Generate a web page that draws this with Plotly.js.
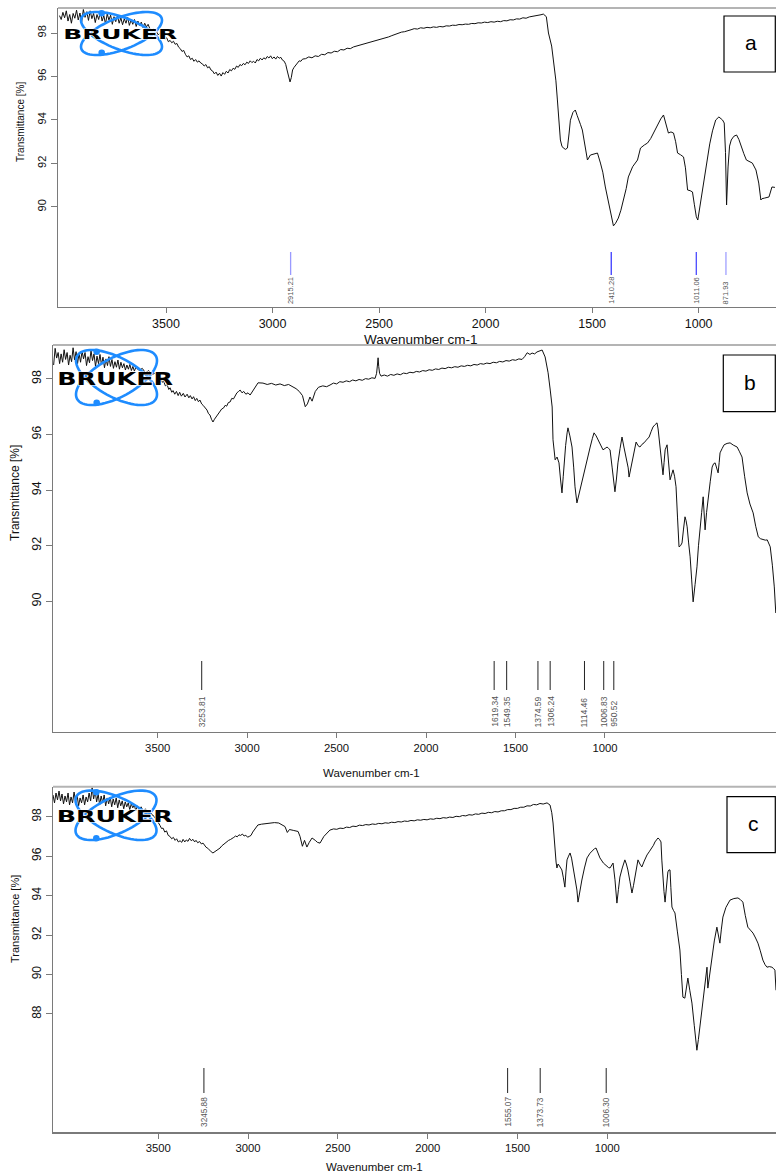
<!DOCTYPE html>
<html><head><meta charset="utf-8">
<script src="https://cdn.plot.ly/plotly-3.0.1.min.js"></script>
<style>html,body{margin:0;padding:0;background:#fff}#chart{width:776px;height:1175px}</style>
</head><body><div id="chart"></div>
<script>
// ---------------- DATA ----------------
const xTickVals = [3500, 3000, 2500, 2000, 1500, 1000];
const yTicksA = [90, 92, 94, 96, 98];
const yTicksB = [90, 92, 94, 96, 98];
const yTicksC = [88, 90, 92, 94, 96, 98];
const panelLetters = ["a", "b", "c"];
const xTitle = "Wavenumber cm-1";
const yTitle = "Transmittance [%]";
const logoText = "BRUKER";

const peaksA = [2915.21, 1410.28, 1011.06, 871.93];
const peaksB = [3253.81, 1619.34, 1549.35, 1374.59, 1306.24, 1114.46, 1006.83, 950.52];
const peaksC = [3245.88, 1555.07, 1373.73, 1006.30];

const waveA = [4000,3992,3984,3976,3968,3960,3952,3944,3936,3928,3920,3912,3904,3896,3888,3880,3872,3864,3856,3848,3840,3832,3824,3816,3808,3800,3792,3784,3776,3768,3760,3752,3744,3736,3728,3720,3712,3704,3696,3688,3680,3672,3664,3656,3648,3640,3632,3624,3616,3608,3600,3592,3584,3576,
3568,3560,3552,3545,3537,3529,3521,3513,3505,3497,3489,3481,3473,3465,3457,3449,3441,3433,3425,3417,3409,3401,3393,3385,3377,3369,3361,3353,3345,3337,3329,3321,3313,3305,3297,3289,3281,3273,3265,3257,3249,3241,3233,3225,3217,3209,3201,3193,3185,3177,3169,3161,3153,3145,3137,3129,3121,3113,3105,3097,3089,3081,3073,3065,3057,3049,3041,3033,3025,3017,3009,3001,2993,2985,2977,2969,2961,2953,2945,2938,2932,2925,2918,2912,2906,2899,2891,2883,2875,2867,2859,
2845,2830,2815,2800,2785,2770,2755,2740,2725,2710,2695,2680,2665,2650,2635,2620,2605,2590,2575,2560,2545,2530,2515,2500,2485,2470,2455,2440,2425,2410,2395,2380,2365,2350,2335,2320,2305,2290,2275,2260,2245,2230,2215,2200,2185,2170,2155,2140,2125,2110,2095,2080,2065,2050,2035,2020,2005,1990,1975,1960,1945,1930,1915,1900,1885,1870,1855,1840,1825,1810,1795,1780,1765,1750,1740,1729,
1715,1705,1690,1682,1670,1663,1656,1649,1642,1635,1625,1616,1608,1602,1590,1579,1570,1564,1555,1546,1535,1522,1508,1490,1475,1461,1450,1438,1425,1414,1405,1400,1390,1377,1365,1353,1340,1330,1310,1287,1273,1255,1240,1225,1212,1200,1189,1178,1165,1155,1142,1130,1118,1108,1099,1085,1071,1062,1052,1040,1029,1020,1011,1004,996,986,975,962,948,935,920,905,888,880,874,869,866,862,855,847,835,822,811,800,788,776,764,748,731,718,708,703,690,670,656,642,634];
const transA = [98.80,98.62,98.95,98.70,99.02,98.55,98.85,98.45,98.90,98.68,99.05,98.60,98.92,98.50,99.08,98.72,98.98,98.58,99.02,98.66,98.90,98.48,98.85,98.62,99.00,98.55,98.80,98.42,98.88,98.60,98.82,98.40,98.75,98.52,98.80,98.45,98.70,98.38,98.65,98.45,98.72,98.35,98.60,98.40,98.62,98.30,98.55,98.35,98.50,98.25,98.45,98.28,98.40,98.20,
98.12,98.18,98.02,98.06,97.92,97.98,97.85,97.90,97.72,97.78,97.60,97.66,97.55,97.62,97.48,97.52,97.35,97.28,97.15,97.20,97.02,96.90,96.95,96.78,96.84,96.70,96.78,96.66,96.72,96.62,96.58,96.48,96.55,96.40,96.45,96.30,96.25,96.12,96.20,96.05,96.15,96.02,96.18,96.10,96.24,96.16,96.32,96.26,96.38,96.33,96.48,96.42,96.55,96.50,96.60,96.54,96.66,96.60,96.72,96.64,96.70,96.62,96.78,96.72,96.84,96.76,96.86,96.80,96.92,96.85,96.95,96.82,96.90,96.80,96.92,96.84,96.88,96.75,96.70,96.55,96.30,96.00,95.75,95.95,96.30,96.42,96.55,96.62,96.72,96.70,96.80,
96.82,96.90,96.86,96.95,96.92,97.02,97.00,97.10,97.08,97.16,97.14,97.24,97.22,97.30,97.28,97.36,97.40,97.45,97.50,97.52,97.58,97.60,97.66,97.68,97.74,97.78,97.82,97.88,97.94,97.98,98.04,98.06,98.12,98.15,98.20,98.18,98.24,98.22,98.26,98.24,98.28,98.26,98.30,98.28,98.33,98.32,98.36,98.35,98.39,98.38,98.41,98.40,98.44,98.43,98.47,98.46,98.50,98.48,98.52,98.50,98.54,98.52,98.57,98.56,98.61,98.60,98.65,98.64,98.70,98.68,98.74,98.76,98.79,98.80,98.84,98.87,
98.75,98.00,97.40,96.76,95.80,94.92,94.00,93.08,92.80,92.71,92.65,92.71,93.40,93.99,94.35,94.46,94.20,93.99,93.80,93.54,92.80,92.16,92.39,92.45,92.48,92.02,91.60,90.92,90.30,89.72,89.30,89.13,89.25,89.49,89.85,90.32,90.85,91.38,91.85,92.16,92.71,92.85,92.94,93.15,93.40,93.60,93.86,94.05,94.23,93.90,93.40,93.45,93.40,93.00,92.48,92.40,92.30,91.80,90.78,90.75,90.69,90.10,89.55,89.40,89.90,90.60,91.40,92.20,92.90,93.50,94.00,94.14,94.00,93.86,92.50,90.09,91.00,91.84,92.80,93.08,93.25,93.31,93.10,92.76,92.45,92.16,92.10,92.02,91.70,91.10,90.32,90.38,90.41,90.46,90.92,90.90];

const waveB = [4000,3993,3986,3979,3972,3965,3958,3951,3944,3937,3930,3923,3916,3909,3902,3895,3888,3881,3874,3867,3860,3853,3846,3839,3832,3825,3818,3811,3804,3797,3790,3783,3776,3769,3762,3755,3748,3741,3734,3727,3720,3713,3706,3699,3692,3685,3678,3671,3664,3657,3650,3643,3636,3629,3622,3615,3600,3585,3570,3555,3540,3528,
3516,3508,3500,3492,3485,3477,3469,3461,3455,3447,3441,3433,3425,3417,3410,3402,3393,3385,3375,3367,3360,3352,3345,3337,3330,3322,3315,3307,3300,3291,3282,3275,3268,3261,3254,3247,3240,3230,3221,3213,3205,3197,3190,3182,3174,3166,3158,3150,3142,3134,3127,3118,3110,3100,3090,3080,3070,3060,3052,3043,
3020,3000,2980,2960,2940,2920,2900,2880,2865,2850,2835,2822,2812,2800,2790,2775,2760,2740,2722,
2706,2690,2675,2660,2645,2630,2615,2600,2585,2570,2555,2540,2525,2510,2495,2488,2484,2481,2478,2474,2467,2452,2437,2422,2407,2392,2377,2362,2347,2332,2317,2302,2287,2272,2257,2242,2227,2212,2197,2182,2167,2152,2137,2122,2107,2092,2077,2062,2047,2032,2017,2002,1987,1972,1957,1942,1927,1912,1897,1882,1867,1852,1837,1822,1807,1795,1783,1770,1760,1748,1737,1725,1713,
1699,1685,1675,1666,1662,1652,1643,1634,1627,1620,1614,1610,1603,1596,1592,1583,1573,1565,1559,1550,1542,1535,1523,1512,1500,1488,1478,1470,1460,1451,1440,1428,1418,1409,1402,1395,1385,1378,1372,1365,1358,1348,1339,1330,1316,1310,1306,1297,1287,1280,1273,1264,1255,1245,1236,1225,1212,1203,1194,1185,1175,1170,1166,1157,1147,1142,1137,1128,1121,1114,1107,1100,1093,1086,1079,1072,1065,1058,1051,1044,1039,1034,1027,1020,1013,1006,997,988,981,974,966,959,955,950,943,936,926,917,910,903,896,889,884,880,870,861,847,833,818,800,790,777,765,753,740,725,713,701,690,678,668,659,652,645,635,626,619];
const transB = [98.50,99.10,98.75,98.95,98.55,98.90,98.60,99.05,98.70,98.95,98.50,98.85,98.62,99.12,98.68,98.98,98.55,98.92,98.60,99.00,98.72,98.95,98.48,98.80,98.58,99.02,98.66,98.90,98.45,98.82,98.55,98.88,98.50,98.78,98.40,98.72,98.48,98.80,98.45,98.70,98.38,98.62,98.42,98.68,98.35,98.60,98.40,98.55,98.32,98.50,98.35,98.52,98.30,98.45,98.28,98.42,98.30,98.38,98.22,98.30,98.15,98.20,
98.14,98.00,98.05,97.88,97.92,97.75,97.80,97.62,97.68,97.52,97.58,97.45,97.55,97.40,97.52,97.38,97.48,97.35,97.45,97.32,97.40,97.28,97.36,97.22,97.30,97.18,97.24,97.10,97.05,96.95,96.88,96.75,96.70,96.55,96.45,96.55,96.62,96.75,96.81,96.92,96.95,97.05,97.02,97.15,97.17,97.30,97.28,97.42,97.50,97.55,97.60,97.50,97.55,97.45,97.50,97.42,97.55,97.65,97.75,97.86,
97.85,97.80,97.84,97.78,97.82,97.76,97.80,97.72,97.65,97.55,97.40,97.00,97.10,97.35,97.20,97.55,97.70,97.75,97.72,
97.78,97.85,97.82,97.90,97.88,97.93,97.90,97.96,97.93,97.98,97.95,98.01,97.99,98.04,98.02,98.20,98.50,98.76,98.45,98.20,98.10,98.14,98.10,98.16,98.13,98.18,98.15,98.21,98.19,98.24,98.22,98.27,98.25,98.30,98.28,98.33,98.31,98.36,98.34,98.39,98.37,98.42,98.40,98.44,98.42,98.47,98.45,98.49,98.47,98.52,98.50,98.55,98.53,98.57,98.55,98.60,98.58,98.63,98.61,98.66,98.64,98.69,98.67,98.72,98.70,98.80,98.94,98.88,98.93,98.90,98.97,99.00,99.04,
98.79,98.22,97.60,96.99,95.81,95.09,95.19,94.98,94.40,93.90,94.50,95.09,95.60,96.06,96.24,95.95,95.55,94.80,94.12,93.54,93.80,94.12,94.50,94.83,95.20,95.55,95.85,96.06,95.95,95.81,95.60,95.45,95.50,95.55,95.50,95.45,94.80,94.20,93.94,94.40,94.98,95.50,95.91,95.55,95.09,94.80,94.47,94.80,95.09,95.40,95.73,95.60,95.55,95.65,95.70,95.80,95.91,96.10,96.27,96.35,96.42,96.20,95.91,95.20,94.55,95.00,95.45,95.63,95.00,94.37,94.55,94.73,94.50,94.12,93.00,91.96,92.00,92.10,92.60,93.04,92.90,92.68,92.10,91.60,90.80,89.98,90.60,91.24,92.00,92.68,93.20,93.76,93.20,92.57,93.20,93.76,94.30,94.83,94.95,94.98,94.80,94.62,95.00,95.34,95.50,95.63,95.68,95.70,95.62,95.55,95.40,95.19,94.50,93.90,93.50,93.18,92.70,92.32,92.25,92.21,92.20,92.21,92.10,91.96,91.30,90.52,89.58];

const waveC = [4000,3993,3986,3979,3972,3965,3958,3951,3944,3937,3930,3923,3916,3909,3902,3895,3888,3881,3874,3867,3860,3853,3846,3839,3832,3825,3818,3811,3804,3797,3790,3783,3776,3769,3762,3755,3748,3741,3734,3727,3720,3713,3706,3699,3692,3685,3678,3671,3664,3657,3650,3643,3636,3629,3622,3615,3608,3600,3590,3580,3570,3560,3550,3540,
3532,3525,3518,3510,3502,3495,3488,3480,3472,3464,3456,3448,3440,3432,3425,3417,3409,3401,3395,3387,3380,3372,3365,3357,3349,3341,3335,3327,3318,3310,3302,3295,3288,3280,3272,3264,3256,3248,3240,3232,3223,3215,3207,3199,3191,3183,3175,3167,3159,3151,3143,3135,3127,3119,3111,3103,3095,3087,3079,3071,3063,3055,3047,
3030,3000,2970,2950,2935,2921,2910,2900,2880,2860,2851,2840,2830,2819,2808,2795,2780,2770,2758,2740,
2712,2695,2680,2665,2650,2635,2620,2605,2590,2575,2560,2545,2530,2515,2500,2485,2470,2455,2440,2425,2410,2395,2380,2365,2350,2335,2320,2305,2290,2275,2260,2245,2230,2215,2200,2185,2170,2155,2140,2125,2110,2095,2080,2065,2050,2035,2020,2005,1990,1975,1960,1945,1930,1915,1900,1885,1870,1855,1840,1825,1810,1795,1780,1765,1750,1735,1720,1702,
1688,1680,1674,1669,1665,1660,1656,1651,1647,1640,1633,1626,1619,1614,1609,1602,1595,1588,1581,1572,1563,1558,1550,1540,1528,1516,1502,1488,1481,1474,1465,1456,1440,1423,1416,1409,1402,1395,1386,1377,1370,1363,1352,1340,1333,1326,1316,1307,1300,1293,1286,1279,1270,1261,1250,1237,1225,1214,1207,1200,1193,1186,1179,1172,1168,1163,1158,1153,1147,1140,1135,1130,1126,1121,1114,1107,1096,1084,1077,1070,1061,1054,1047,1038,1028,1017,1005,998,991,984,977,968,958,954,945,935,924,912,905,898,891,884,870,851,833,814,803,791,780,768,756,744,732,721,710,698,688,679,668,656,648,642,637];
const transC = [99.10,98.70,99.20,98.85,99.30,98.80,99.15,98.65,99.05,98.75,99.20,98.60,99.00,98.70,99.25,98.80,99.10,98.55,98.95,98.70,99.10,98.60,99.00,98.75,99.20,98.80,99.47,98.90,99.30,98.75,99.15,98.60,99.05,98.70,99.10,98.55,98.95,98.65,99.00,98.50,98.90,98.60,98.95,98.45,98.85,98.55,98.80,98.40,98.75,98.50,98.70,98.35,98.65,98.45,98.60,98.30,98.55,98.35,98.50,98.25,98.40,98.20,98.30,98.10,
98.05,97.92,97.98,97.70,97.55,97.40,97.42,97.22,97.28,97.05,97.00,96.88,96.95,96.80,96.88,96.72,96.78,96.70,96.85,96.72,96.82,96.75,96.90,96.78,96.85,96.72,96.80,96.68,96.74,96.62,96.66,96.52,96.45,96.40,96.30,96.22,96.16,96.22,96.30,96.38,96.41,96.52,96.60,96.68,96.74,96.80,96.84,96.92,96.95,97.02,96.98,97.08,97.05,97.12,97.02,97.06,96.96,97.00,97.05,97.22,97.35,97.50,97.58,
97.62,97.65,97.70,97.68,97.60,97.50,97.20,97.35,97.30,97.25,97.00,96.50,96.80,96.46,96.70,96.92,96.80,96.70,96.66,97.00,
97.32,97.38,97.36,97.42,97.40,97.47,97.45,97.52,97.50,97.57,97.55,97.60,97.58,97.63,97.61,97.66,97.64,97.69,97.67,97.72,97.70,97.75,97.73,97.78,97.76,97.81,97.79,97.84,97.82,97.86,97.84,97.89,97.87,97.92,97.90,97.95,97.93,97.98,97.96,98.02,98.00,98.06,98.04,98.10,98.08,98.14,98.12,98.18,98.16,98.22,98.20,98.26,98.24,98.30,98.30,98.36,98.36,98.42,98.42,98.48,98.48,98.55,98.54,98.62,98.60,98.67,98.64,98.70,
98.59,98.20,97.68,96.90,96.16,95.70,95.40,95.60,95.55,95.40,95.30,94.90,94.43,95.20,95.81,96.00,96.16,95.90,95.45,94.90,94.28,93.67,94.20,94.79,95.40,95.91,96.15,96.31,96.38,96.41,96.20,95.91,95.65,95.45,95.42,95.40,95.50,95.65,94.80,93.62,94.30,94.94,95.40,95.81,95.60,95.30,94.70,94.13,94.50,94.94,95.40,95.81,95.60,95.45,95.75,96.06,96.25,96.41,96.55,96.72,96.85,96.92,96.85,96.72,95.80,94.79,94.20,93.67,94.50,95.20,95.30,95.30,94.40,93.42,93.25,93.12,92.20,91.24,90.00,88.85,88.80,89.30,89.82,89.20,88.55,87.40,86.16,86.70,87.33,87.90,88.55,89.40,90.37,89.31,90.10,90.88,91.70,92.40,92.00,91.59,92.30,92.91,93.40,93.77,93.85,93.88,93.80,93.67,93.00,92.40,92.25,92.10,91.85,91.59,91.20,90.73,90.50,90.37,90.40,90.37,90.30,90.22,89.20];

// ---------------- LAYOUT HELPERS ----------------
const W = 776, H = 1175;
const px = x => x / W;
const py = y => 1 - y / H;
const FONT = "Arial, 'Liberation Sans', sans-serif";
const AXC = "#7a7a7a";

function visAxis(x0, range, fsize) {
  return {domain: [px(x0), 1], range: range, tickvals: xTickVals, ticks: "outside", ticklen: 5,
    tickcolor: AXC, tickwidth: 1, showline: true, linecolor: AXC, linewidth: 1.3, showgrid: false,
    zeroline: false, tickfont: {family: FONT, size: fsize, color: "#111"}, fixedrange: true};
}
function yAxis(top, bottom, range, ticks, fsize) {
  return {domain: [py(bottom), py(top)], range: range, tickvals: ticks, ticks: "outside", ticklen: 6,
    tickcolor: AXC, tickwidth: 1, showline: true, linecolor: AXC, linewidth: 1.3, showgrid: false,
    zeroline: false, tickangle: -90, tickfont: {family: FONT, size: fsize, color: "#111"}, fixedrange: true};
}

const traces = [
  {x: waveA, y: transA, xaxis: "x", yaxis: "y", type: "scatter", mode: "lines", line: {color: "#111", width: 1}, hoverinfo: "skip"},
  {x: waveB, y: transB, xaxis: "x3", yaxis: "y2", type: "scatter", mode: "lines", line: {color: "#111", width: 1}, hoverinfo: "skip"},
  {x: waveC, y: transC, xaxis: "x5", yaxis: "y3", type: "scatter", mode: "lines", line: {color: "#111", width: 1}, hoverinfo: "skip"}
];

const shapes = [];
const annotations = [];

// top frame lines
[[58, 8], [53, 345], [53, 786.7]].forEach(([x0, y]) => {
  shapes.push({type: "line", xref: "paper", yref: "paper", x0: px(x0), x1: 1, y0: py(y), y1: py(y), line: {color: "#b4b4b4", width: 2}});
});

// peak markers
const peakColorsA = ["#9a9aff", "#3c3cff", "#4a4aff", "#a0a0ff"];
function addPeaks(peaks, xref, y0, y1, textBottom, fsize, colors) {
  peaks.forEach((p, i) => {
    shapes.push({type: "line", xref: xref, yref: "paper", x0: p, x1: p, y0: py(y1), y1: py(y0),
      line: {color: colors ? colors[i] : "#222", width: colors ? 1.3 : 1}});
    annotations.push({x: p, xref: xref, y: py(textBottom), yref: "paper", text: p.toFixed(2), textangle: -90,
      showarrow: false, xanchor: "center", yanchor: "bottom", font: {family: FONT, size: fsize, color: "#555"}});
  });
}
addPeaks(peaksA, "x", 252, 275, 306, 7.5, peakColorsA);
addPeaks(peaksB, "x2", 661, 690, 729, 8.5, null);
addPeaks(peaksC, "x4", 1068, 1093, 1129, 8.2, null);

// axis titles
[[421, 339, 13.5], [371, 773, 11.5], [374, 1166.5, 11.5]].forEach(([x, y, s]) => {
  annotations.push({x: px(x), y: py(y), xref: "paper", yref: "paper", text: xTitle, showarrow: false,
    xanchor: "center", yanchor: "middle", font: {family: FONT, size: s, color: "#111"}});
});
[[20, 122, 10], [15, 493, 12], [15, 919, 11]].forEach(([x, y, s]) => {
  annotations.push({x: px(x), y: py(y), xref: "paper", yref: "paper", text: yTitle, textangle: -90, showarrow: false,
    xanchor: "center", yanchor: "middle", font: {family: FONT, size: s, color: "#111"}});
});

// panel letter boxes
[[724, 16, 72, 751, 42], [723.3, 355, 411.7, 750, 382], [727, 796.7, 852.7, 753, 823]].forEach(([x0, y0, y1, tx, ty], i) => {
  shapes.push({type: "rect", xref: "paper", yref: "paper", x0: px(x0), x1: px(775.3), y0: py(y1), y1: py(y0),
    line: {color: "#000", width: 1.2}, fillcolor: "#fff", layer: "above"});
  annotations.push({x: px(tx), y: py(ty), xref: "paper", yref: "paper", text: panelLetters[i], showarrow: false,
    xanchor: "center", yanchor: "middle", font: {family: FONT, size: 21, color: "#000"}});
});

// Bruker logos (orbit ellipses + dots + wordmark)
function ellipsePath(cx, cy, hw, hh, sign) {
  const a = 42, b = 16, th = 22 * Math.PI / 180 * sign;
  const sx = hw / 39.4, sy = hh / 21.6;
  let d = "";
  for (let k = 0; k <= 72; k++) {
    const t = k / 72 * 2 * Math.PI;
    const ex = a * Math.cos(t), ey = b * Math.sin(t);
    const rx = ex * Math.cos(th) - ey * Math.sin(th);
    const ry = ex * Math.sin(th) + ey * Math.cos(th);
    d += (k === 0 ? "M" : "L") + px(cx + rx * sx).toFixed(5) + "," + py(cy + ry * sy).toFixed(5);
  }
  return d + "Z";
}
const LOGOBLUE = "#1e8cff";
[[121.5, 33.5, 21.5, 101.7, 13.3, 52.7, 120, 33.5, 14.5],
 [116.5, 377.5, 27.5, 96.7, 351.7, 402.7, 115, 378.5, 18],
 [116, 815.3, 24.7, 96.3, 792.3, 838.3, 115, 816, 16.5]].forEach(([cx, cy, hh, dx, dy1, dy2, tx, ty, fs]) => {
  [1, -1].forEach(s => shapes.push({type: "path", xref: "paper", yref: "paper", path: ellipsePath(cx, cy, 40.5, hh, s),
    line: {color: LOGOBLUE, width: 2.6}, layer: "above"}));
  [dy1, dy2].forEach(dy => shapes.push({type: "circle", xref: "paper", yref: "paper",
    x0: px(dx - 3.3), x1: px(dx + 3.3), y0: py(dy + 3.3), y1: py(dy - 3.3),
    fillcolor: LOGOBLUE, line: {color: LOGOBLUE, width: 0}, layer: "above"}));
  annotations.push({x: px(tx), y: py(ty), xref: "paper", yref: "paper", text: "<b>" + logoText + "</b>", showarrow: false,
    xanchor: "center", yanchor: "middle", font: {family: "'DejaVu Sans', Arial, sans-serif", size: fs, color: "#000"}});
});

const layout = {
  width: W, height: H, margin: {l: 0, r: 0, t: 0, b: 0, pad: 0},
  paper_bgcolor: "#fff", plot_bgcolor: "#fff", showlegend: false,
  xaxis: Object.assign(visAxis(58, [4007, 637], 12.5), {anchor: "y"}),
  yaxis: Object.assign(yAxis(8, 307, [85.4, 99.15], yTicksA, 11), {anchor: "x"}),
  xaxis2: Object.assign(visAxis(53, [4085, 44], 11.3), {anchor: "y2"}),
  xaxis3: {domain: [px(53), 1], range: [4003, 618], overlaying: "x2", anchor: "y2", visible: false, fixedrange: true},
  yaxis2: Object.assign(yAxis(345, 732, [85.30, 99.22], yTicksB, 12.5), {anchor: "x2"}),
  xaxis4: Object.assign(visAxis(53, [4086, 61], 11.3), {anchor: "y3"}),
  xaxis5: {domain: [px(53), 1], range: [4000, 637], overlaying: "x4", anchor: "y3", visible: false, fixedrange: true},
  yaxis3: Object.assign(yAxis(786.7, 1132.3, [82.0, 99.52], yTicksC, 12), {anchor: "x4"}),
  shapes: shapes, annotations: annotations
};

Plotly.newPlot("chart", traces, layout, {displayModeBar: false, staticPlot: true}).then(() => {
  const widths = [114, 116, 116];
  let k = 0;
  document.querySelectorAll("text.annotation-text").forEach(t => {
    if (t.textContent === logoText) {
      t.setAttribute("textLength", widths[k++] || 116);
      t.setAttribute("lengthAdjust", "spacingAndGlyphs");
      t.style.stroke = "#ffffff";
      t.style.strokeWidth = "1.2px";
      t.style.paintOrder = "stroke";
    }
  });
});
</script></body></html>
